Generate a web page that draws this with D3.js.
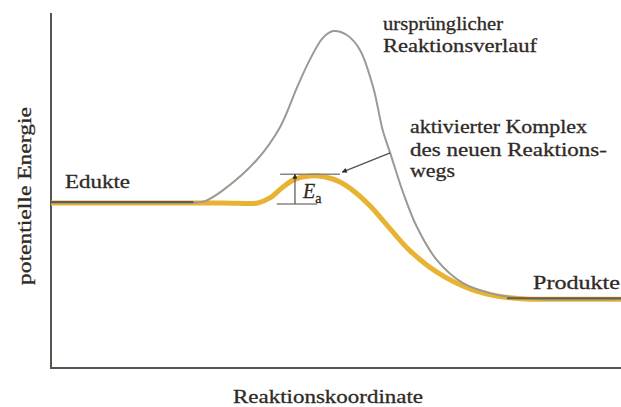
<!DOCTYPE html>
<html>
<head>
<meta charset="utf-8">
<script src="https://cdnjs.cloudflare.com/ajax/libs/d3/7.8.5/d3.min.js"></script>
<style>
  body { margin: 0; background: #fff; }
</style>
</head>
<body>
<div id="chart"></div>
<script>
// reaction coordinate (0..100) and potential energy (0..100)
var grayX = [0, 20.0, 24.4, 27.0, 30.2, 36.1, 40.2, 43.2, 45.4, 47.7, 49.5, 51.9, 54.2, 56.5, 58.2, 59.5, 61.8, 64.2, 67.7, 72.3, 77.0, 80.5, 85.8, 100];
var grayE = [46.5, 46.5, 46.5, 47.0, 50.1, 58.6, 67.9, 79.2, 86.8, 93.0, 94.9, 93.8, 89.6, 79.2, 67.0, 60.6, 49.3, 39.7, 30.4, 23.9, 21.1, 20.0, 19.4, 19.4];

var catX = [0, 30.0, 36.3, 38.4, 40.7, 42.8, 45.4, 48.1, 50.7, 53.3, 56.0, 59.5, 63.0, 67.7, 73.5, 78.2, 84.0, 90.0, 100];
var catE = [46.5, 46.5, 46.5, 47.9, 51.0, 53.2, 54.1, 53.8, 52.4, 49.6, 45.6, 39.2, 33.0, 27.0, 22.3, 20.3, 19.4, 19.4, 19.4];

var eduktLevel = 46.5;
var produktLevel = 19.4;
var complexLevel = 54.6;

var w = 621, h = 407;
var margin = {left: 51, right: 0, top: 13, bottom: 39};
var serif = "'Liberation Serif', 'Times New Roman', 'DejaVu Serif', serif";
var ink = "#2f2a26";

var svg = d3.select("#chart").append("svg")
  .attr("width", w)
  .attr("height", h);

svg.append("rect").attr("width", w).attr("height", h).attr("fill", "#fff");

var x = d3.scaleLinear().domain([0, 100]).range([margin.left, w - margin.right]);
var y = d3.scaleLinear().domain([0, 100]).range([h - margin.bottom, margin.top]);

var defs = svg.append("defs");
defs.append("marker")
  .attr("id", "head")
  .attr("viewBox", "0 0 10 10")
  .attr("refX", 9).attr("refY", 5)
  .attr("markerWidth", 7).attr("markerHeight", 5)
  .attr("markerUnits", "userSpaceOnUse")
  .attr("orient", "auto")
  .append("path")
  .attr("d", "M0,0L10,5L0,10Z")
  .attr("fill", ink);

// axes (no ticks)
svg.append("line")
  .attr("x1", x(0)).attr("x2", x(0))
  .attr("y1", y(100)).attr("y2", y(0))
  .attr("stroke", "#5a544e").attr("stroke-width", 2);
svg.append("line")
  .attr("x1", x(0) - 1).attr("x2", x(100))
  .attr("y1", y(0)).attr("y2", y(0))
  .attr("stroke", "#5a544e").attr("stroke-width", 2);

var line = d3.line()
  .x(function(d) { return x(d[0]); })
  .y(function(d) { return y(d[1]); })
  .curve(d3.curveCatmullRom.alpha(0.5));

var catPts = catX.map(function(v, i) { return [v, catE[i]]; });
var grayPts = grayX.map(function(v, i) { return [v, grayE[i]]; });

svg.append("path")
  .attr("d", line(catPts))
  .attr("fill", "none")
  .attr("stroke", "#e8b232")
  .attr("stroke-width", 5);

svg.append("path")
  .attr("d", line(grayPts))
  .attr("fill", "none")
  .attr("stroke", "#9c9892")
  .attr("stroke-width", 2);

// flat sections where both paths coincide look darker
svg.append("line")
  .attr("x1", x(0)).attr("x2", x(25))
  .attr("y1", y(eduktLevel) - 1).attr("y2", y(eduktLevel) - 1)
  .attr("stroke", "#6a5c40").attr("stroke-width", 2);
svg.append("line")
  .attr("x1", x(80)).attr("x2", x(100))
  .attr("y1", y(produktLevel) - 1).attr("y2", y(produktLevel) - 1)
  .attr("stroke", "#6a5c40").attr("stroke-width", 2);

// Ea marker
svg.append("line")
  .attr("x1", x(40.2)).attr("x2", x(50.7))
  .attr("y1", y(complexLevel)).attr("y2", y(complexLevel))
  .attr("stroke", "#8a8580").attr("stroke-width", 1.5);
svg.append("line")
  .attr("x1", x(39.6)).attr("x2", x(46.7))
  .attr("y1", y(eduktLevel) + 1).attr("y2", y(eduktLevel) + 1)
  .attr("stroke", "#8a8580").attr("stroke-width", 1.5);
svg.append("line")
  .attr("x1", x(42.8)).attr("x2", x(42.8))
  .attr("y1", y(eduktLevel) + 1).attr("y2", y(complexLevel))
  .attr("stroke", "#55504a").attr("stroke-width", 1.2)
  .attr("marker-end", "url(#head)");

var ea = svg.append("text")
  .attr("x", 303).attr("y", 198)
  .attr("font-family", serif)
  .attr("fill", ink)
  .attr("stroke", ink).attr("stroke-width", 0.3)
  .attr("font-size", 20)
  .attr("font-style", "italic");
ea.append("tspan").text("E");
ea.append("tspan").attr("font-size", 14).attr("font-style", "normal").attr("dy", 5).text("a");

// pointer to the activated complex
svg.append("line")
  .attr("x1", x(59.5)).attr("y1", y(60.6))
  .attr("x2", x(51.1)).attr("y2", y(55.2))
  .attr("stroke", "#55504a").attr("stroke-width", 1.3)
  .attr("marker-end", "url(#head)");

function label(t, px, py, len) {
  return svg.append("text")
    .attr("x", px).attr("y", py)
    .attr("font-family", serif)
    .attr("fill", ink)
    .attr("stroke", ink).attr("stroke-width", 0.3)
    .attr("font-size", 19)
    .attr("textLength", len)
    .attr("lengthAdjust", "spacingAndGlyphs")
    .text(t);
}

label("ursprünglicher", 383, 30, 120);
label("Reaktionsverlauf", 383, 52, 154);
label("aktivierter Komplex", 410, 133, 177);
label("des neuen Reaktions-", 410, 156, 197);
label("wegs", 410, 177, 45);
label("Edukte", 65, 188, 65);
label("Produkte", 533, 289, 87);
label("Reaktionskoordinate", 233, 403, 190);

svg.append("text")
  .attr("transform", "translate(31,196) rotate(-90)")
  .attr("text-anchor", "middle")
  .attr("font-family", serif)
  .attr("fill", ink)
  .attr("stroke", ink).attr("stroke-width", 0.3)
  .attr("font-size", 19)
  .attr("textLength", 178)
  .attr("lengthAdjust", "spacingAndGlyphs")
  .text("potentielle Energie");
</script>
</body>
</html>
